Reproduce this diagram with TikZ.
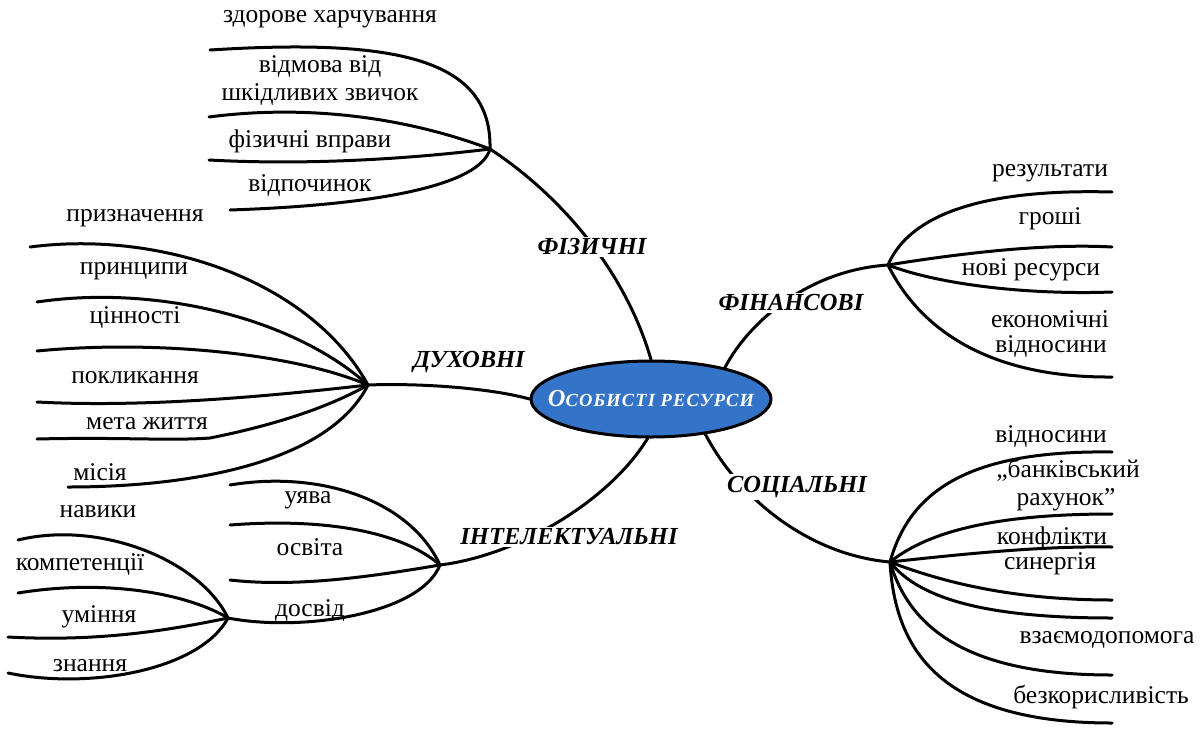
\documentclass[tikz,border=0pt]{standalone}
\usepackage{fontspec}
\setmainfont{Liberation Serif}
\usetikzlibrary{shapes.geometric}
\definecolor{ovalblue}{RGB}{52,116,200}
\begin{document}
\begin{tikzpicture}[x=1pt,y=-1pt,
  br/.style={line width=3pt, line cap=round},
  leaf/.style={font=\fontsize{25.5}{30}\selectfont, inner sep=0pt},
  cat/.style={font=\fontsize{24.5}{28}\selectfont\bfseries\itshape, fill=white, inner sep=2pt},
  ctr/.style={ellipse, draw, line width=3pt, fill=ovalblue, minimum width=240pt, minimum height=76pt, inner sep=0pt},
  ctrtext/.style={inner sep=0pt, text=white, font=\bfseries\itshape}]
\useasboundingbox (0,0) rectangle (1204,728);
\node[ctr] (E) at (651,399) {};
\node[ctrtext] (Et) at (E.center) {{\fontsize{24.5}{26}\selectfont О}{\fontsize{18.5}{20}\selectfont\addfontfeatures{LetterSpace=6}СОБИСТІ РЕСУРСИ}};
% hubs
\coordinate (P) at (490,149);
\coordinate (D) at (368,385);
\coordinate (I) at (440,565);
\coordinate (S) at (228,618);
\coordinate (F) at (888,265);
\coordinate (C) at (890,562);
% physical ends
\coordinate (p1) at (210,50);
\coordinate (p2) at (209,117);
\coordinate (p3) at (209,160);
\coordinate (p4) at (230,210);
% spiritual ends
\coordinate (d1) at (30,247);
\coordinate (d2) at (37,302);
\coordinate (d3) at (37,351);
\coordinate (d4) at (37,402);
\coordinate (d5) at (37,439);
\coordinate (d5m) at (210,438);
\coordinate (d6) at (68,487);
% intellectual ends
\coordinate (i1) at (230,485);
\coordinate (i2) at (230,525);
\coordinate (i3) at (230,580);
% sub-hub ends
\coordinate (s1) at (18,540);
\coordinate (s2) at (18,593);
\coordinate (s3) at (8,637);
\coordinate (s4) at (8,673);
% financial ends
\coordinate (f1) at (1112,192);
\coordinate (f2) at (1112,247);
\coordinate (f3) at (1112,292);
\coordinate (f4) at (1112,377);
% social ends
\coordinate (c1) at (1112,452);
\coordinate (c2) at (1112,514);
\coordinate (c3) at (1112,547);
\coordinate (c4) at (1112,600);
\coordinate (c5) at (1112,618);
\coordinate (c6) at (1112,675);
\coordinate (c7) at (1112,723);

% main connectors
\draw[br] (P) .. controls (560,195) and (625,270) .. (E.north);
\draw[br] (D) .. controls (420,383) and (490,388) .. (E.west);
\draw[br] (I) .. controls (520,555) and (610,500) .. (E.265);
\draw[br] (E.23) .. controls (750,320) and (810,270) .. (F);
\draw[br] (E.-33) .. controls (740,500) and (810,555) .. (C);

% physical
\draw[br] (p1) .. controls (400,38) and (492,60) .. (P);
\draw[br] (p2) .. controls (300,105) and (400,115) .. (P);
\draw[br] (p3) .. controls (300,165) and (400,160) .. (P);
\draw[br] (p4) .. controls (380,205) and (480,185) .. (P);
% spiritual
\draw[br] (d1) .. controls (160,230) and (310,280) .. (D);
\draw[br] (d2) .. controls (150,285) and (290,315) .. (D);
\draw[br] (d3) .. controls (150,340) and (290,352) .. (D);
\draw[br] (d4) .. controls (150,408) and (280,395) .. (D);
\draw[br] (d5) .. controls (120,437) and (170,441) .. (d5m) .. controls (260,428) and (320,412) .. (D);
\draw[br] (d6) .. controls (200,487) and (330,460) .. (D);
% intellectual
\draw[br] (i1) .. controls (320,470) and (410,500) .. (I);
\draw[br] (i2) .. controls (320,518) and (400,530) .. (I);
\draw[br] (i3) .. controls (300,588) and (380,575) .. (I);
\draw[br] (S) .. controls (300,632) and (420,615) .. (I);
% sub-hub
\draw[br] (s1) .. controls (100,520) and (200,560) .. (S);
\draw[br] (s2) .. controls (110,578) and (190,595) .. (S);
\draw[br] (s3) .. controls (100,642) and (170,630) .. (S);
\draw[br] (s4) .. controls (90,690) and (200,670) .. (S);
% financial
\draw[br] (F) .. controls (905,225) and (960,188) .. (f1);
\draw[br] (F) .. controls (950,255) and (1040,243) .. (f2);
\draw[br] (F) .. controls (940,285) and (1030,295) .. (f3);
\draw[br] (F) .. controls (920,330) and (990,378) .. (f4);
% social
\draw[br] (C) .. controls (910,490) and (970,450) .. (c1);
\draw[br] (C) .. controls (930,530) and (1000,514) .. (c2);
\draw[br] (C) .. controls (980,552) and (1050,546) .. (c3);
\draw[br] (C) .. controls (950,585) and (1020,600) .. (c4);
\draw[br] (C) .. controls (920,600) and (990,618) .. (c5);
\draw[br] (C) .. controls (910,630) and (970,675) .. (c6);
\draw[br] (C) .. controls (895,650) and (940,723) .. (c7);

% category labels
\node[cat] (lP) at (592,247) {ФІЗИЧНІ};
\node[cat] (lD) at (469,362) {ДУХОВНІ};
\node[cat] (lI) at (569,537) {ІНТЕЛЕКТУАЛЬНІ};
\node[cat] (lF) at (791,303) {ФІНАНСОВІ};
\node[cat] (lC) at (797,487) {СОЦІАЛЬНІ};

% physical leaves
\node[leaf] (t1) at (330,19) {здорове харчування};
\node[leaf] (t2) at (320,67) {відмова від};
\node[leaf] (t3) at (320,95) {шкідливих звичок};
\node[leaf] (t4) at (310,141) {фізичні вправи};
\node[leaf] (t5) at (310,186) {відпочинок};
% spiritual leaves
\node[leaf] (t6) at (135,218) {призначення};
\node[leaf] (t7) at (134,271) {принципи};
\node[leaf] (t8) at (135,318) {цінності};
\node[leaf] (t9) at (135,378) {покликання};
\node[leaf] (t10) at (147,424) {мета життя};
\node[leaf] (t11) at (100,472) {місія};
% intellectual leaves
\node[leaf] (t12) at (308,500) {уява};
\node[leaf] (t13) at (310,547) {освіта};
\node[leaf] (t14) at (310,611) {досвід};
\node[leaf] (t15) at (98,512) {навики};
\node[leaf] (t16) at (80,565) {компетенції};
\node[leaf] (t17) at (99,617) {уміння};
\node[leaf] (t18) at (90,666) {знання};
% financial leaves
\node[leaf] (t19) at (1050,173) {результати};
\node[leaf] (t20) at (1050,219) {гроші};
\node[leaf] (t21) at (1031,270) {нові ресурси};
\node[leaf] (t22) at (1050,319) {економічні};
\node[leaf] (t23) at (1051,347) {відносини};
% social leaves
\node[leaf] (t24) at (1051,437) {відносини};
\node[leaf] (t25) at (1068,470) {„банківський};
\node[leaf] (t26) at (1066,500) {рахунок”};
\node[leaf] (t27) at (1052,538) {конфлікти};
\node[leaf] (t28) at (1050,564) {синергія};
\node[leaf] (t29) at (1107,640) {взаємодопомога};
\node[leaf] (t30) at (1101,697) {безкорисливість};
\end{tikzpicture}
\end{document}
